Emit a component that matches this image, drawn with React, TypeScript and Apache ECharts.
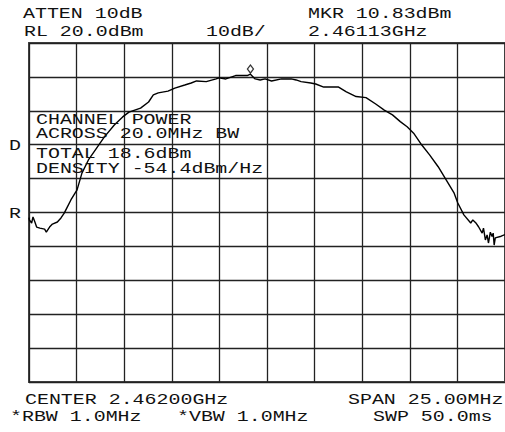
import React, { useEffect, useRef } from "react";
import * as echarts from "echarts";

// Frequency offset from CENTER 2.46200 GHz (MHz) and measured level (dBm)
const freqOffsetMHz = [
  -12.5, -12.48, -12.36, -12.29, -12.19, -12.1, -11.93, -11.68, -11.59, -11.42, -11.27, -11.01,
  -10.82, -10.65, -10.49, -10.3, -10.05, -9.98, -9.72, -9.38, -8.95, -8.54, -8.02, -7.58,
  -7.25, -6.64, -6.22, -5.97, -5.71, -5.2, -4.84, -4.32, -3.98, -3.7, -3.19, -2.67, -2.52,
  -2.16, -1.65, -1.04, -0.87, -0.62, -0.36, -0.1, 0.24, 0.76, 1.27, 1.53, 1.79, 2.3, 2.56,
  2.98, 3.76, 4.17, 4.68, 5.2, 5.71, 6.16, 6.59, 7.0, 7.36, 7.7, 8.13, 8.54, 8.99, 9.41,
  9.83, 10.02, 10.34, 10.7, 10.81, 10.96, 11.11, 11.3, 11.37, 11.47, 11.56, 11.63, 11.73,
  11.82, 11.88, 11.93, 11.99, 12.3, 12.5,
];
const levelDbm = [
  -31.5, -32.2, -33.1, -31.3, -32.8, -34.3, -34.6, -34.9, -35.8, -34.3, -33.4, -32.8,
  -31.6, -30.2, -28.4, -26.3, -24.0, -23.4, -18.4, -14.5, -11.0, -7.7, -4.2, -1.8,
  -0.4, 0.8, 2.6, 4.7, 5.3, 5.8, 6.7, 7.6, 8.2, 8.8, 8.6, 9.4, 9.7,
  9.4, 10.4, 10.4, 10.8, 9.4, 9.1, 9.4, 8.8, 9.4, 9.4, 9.1, 8.6, 8.2, 7.9,
  7.0, 7.0, 5.6, 4.2, 3.9, 2.0, 0.2, -1.2, -3.2, -4.7, -6.6, -10.1, -13.0, -16.5, -20.4,
  -24.3, -27.2, -30.7, -33.1, -32.2, -33.0, -34.2, -36.1, -34.6, -38.1, -36.6, -39.0, -35.8,
  -37.1, -36.1, -39.6, -37.5, -37.0, -36.5,
];

const markerFreqOffset = -0.87; // 2.46113 GHz
const markerLevel = 10.83;

const headerTexts = [
  { text: "ATTEN 10dB", x: 23, y: 14 },
  { text: "MKR 10.83dBm", x: 308, y: 14 },
  { text: "RL 20.0dBm", x: 24, y: 32 },
  { text: "10dB/", x: 206, y: 32 },
  { text: "2.46113GHz", x: 308, y: 32 },
  { text: "CENTER 2.46200GHz", x: 25, y: 400 },
  { text: "SPAN 25.00MHz", x: 348, y: 400 },
  { text: "*RBW 1.0MHz", x: 10, y: 417 },
  { text: "*VBW 1.0MHz", x: 177, y: 417 },
  { text: "SWP 50.0ms", x: 373, y: 417 },
  { text: "D", x: 9, y: 146 },
  { text: "R", x: 9, y: 214 },
  { text: "CHANNEL POWER", x: 36, y: 120 },
  { text: "ACROSS 20.0MHz BW", x: 36, y: 134 },
  { text: "TOTAL 18.6dBm", x: 36, y: 154 },
  { text: "DENSITY -54.4dBm/Hz", x: 36, y: 169 },
];

export default function App() {
  const ref = useRef<HTMLDivElement>(null);
  useEffect(() => {
    if (!ref.current) return;
    const chart = echarts.init(ref.current, undefined, { renderer: "svg" });
    const data = freqOffsetMHz.map((f, i) => [f, levelDbm[i]]);
    chart.setOption({
      animation: false,
      backgroundColor: "#fff",
      grid: {
        left: 29,
        top: 43,
        width: 486,
        height: 339,
        show: true,
        borderColor: "#444",
        borderWidth: 2,
      },
      xAxis: {
        type: "value",
        min: -12.5,
        max: 12.5,
        interval: 2.5,
        axisLine: { show: false },
        axisTick: { show: false },
        axisLabel: { show: false },
        splitLine: { show: true, lineStyle: { color: "#222", width: 1.3 } },
      },
      yAxis: {
        type: "value",
        min: -80,
        max: 20,
        interval: 10,
        axisLine: { show: false },
        axisTick: { show: false },
        axisLabel: { show: false },
        splitLine: { show: true, lineStyle: { color: "#222", width: 1.3 } },
      },
      series: [
        {
          type: "line",
          data,
          showSymbol: false,
          lineStyle: { color: "#000", width: 1.4 },
          z: 3,
        },
        {
          type: "scatter",
          data: [[markerFreqOffset, markerLevel]],
          symbol: "diamond",
          symbolSize: [6, 8],
          symbolOffset: [0, -5],
          itemStyle: { color: "#fff", borderColor: "#000", borderWidth: 1.3 },
          z: 4,
        },
      ],
      graphic: headerTexts.map((t) => ({
        type: "text",
        x: t.x,
        y: t.y,
        scaleX: 1.33,
        z: 10,
        style: {
          text: t.text,
          font: '15px "Liberation Mono"',
          fill: "#111",
          align: "left",
          verticalAlign: "middle",
        },
      })),
    });
    return () => chart.dispose();
  }, []);
  return (
    <div
      ref={ref}
      style={{ position: "absolute", left: 0, top: 0, width: 505, height: 432, background: "#fff" }}
    />
  );
}
